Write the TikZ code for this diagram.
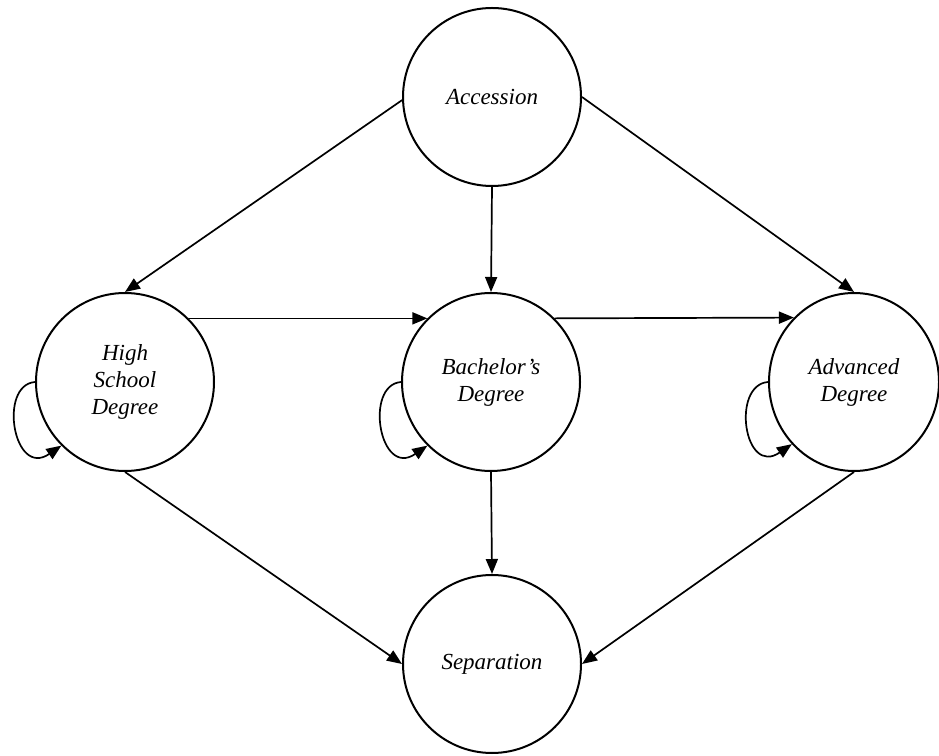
\documentclass[tikz,border=0pt]{standalone}
\usepackage{fontspec}
\setmainfont{Liberation Serif}
\usetikzlibrary{arrows.meta,shapes.geometric}

\begin{document}
\begin{tikzpicture}[x=1pt, y=1pt, node distance=183pt, >={Triangle[length=15pt, width=12pt]},
    every node/.style={font=\itshape\fontsize{23}{27}\selectfont},
    stage/.style={draw, line width=2pt, ellipse, inner sep=0pt, minimum width=178pt, minimum height=178pt, align=center},
    flow/.style={->, line width=1.7pt}]
      \useasboundingbox (0,0) rectangle (939,755);
      \node[stage] (bachelor) at (491,373) {Bachelor’s\\Degree};
      \node[stage, left of=bachelor, xshift=-183pt] (highschool) {High\\School\\Degree};
      \node[stage, right of=bachelor, xshift=180pt, minimum width=170pt] (advanced) {Advanced\\Degree};
      \node[stage, above of=bachelor, yshift=102pt, xshift=1pt] (accession) {Accession};
      \node[stage, below of=bachelor, yshift=-99pt, xshift=1pt] (separation) {Separation};
      \draw[flow] (accession.182) -- (highschool.north);
      \draw[flow] (accession.south) -- (bachelor.north);
      \draw[flow] (accession.east) -- (advanced.north);
      \draw[flow] (highschool.45) -- (bachelor.135);
      \draw[flow] (bachelor.45) -- (advanced.133.5);
      \draw[flow] (highschool.south) -- (separation.west);
      \draw[flow] (bachelor.south) -- (separation.north);
      \draw[flow] (advanced.south) -- (separation.east);
      \draw[flow] (highschool.west) .. controls +(-37,-3) and +(-48,-33) .. (highschool.225);
      \draw[flow] (bachelor.west) .. controls +(-37,-3) and +(-48,-33) .. (bachelor.225);
      \draw[flow] (advanced.west) .. controls +(-37,-3) and +(-48,-33) .. (advanced.225);
    \end{tikzpicture}
\end{document}
